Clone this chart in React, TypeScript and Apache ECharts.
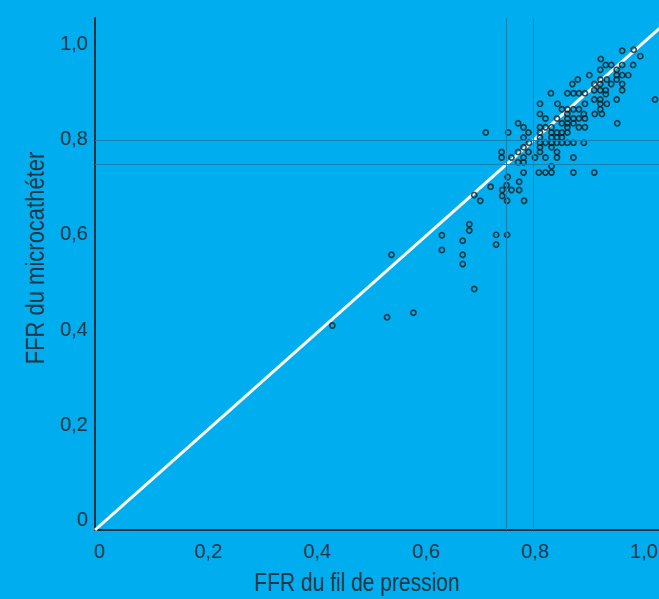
import React, { useEffect, useRef } from 'react';
import * as echarts from 'echarts';

// FFR measured with the pressure wire (x) vs. with the microcatheter (y)
const ffrPressureWire = [
  0.962, 0.983, 0.995, 0.923, 0.932, 0.942, 0.962, 0.982, 0.922, 0.952,
  0.902, 0.952, 0.962, 0.973, 0.881, 0.922, 0.934, 0.952, 0.871, 0.911,
  0.922, 0.942, 0.962, 0.832, 0.862, 0.873, 0.883, 0.894, 0.911, 0.922,
  0.932, 0.962, 0.932, 0.911, 0.922, 0.952, 1.022, 0.812, 0.844, 0.894,
  0.922, 0.934, 0.852, 0.862, 0.873, 0.883, 0.922, 0.812, 0.862, 0.892,
  0.912, 0.925, 0.822, 0.843, 0.862, 0.873, 0.883, 0.894, 0.772, 0.852,
  0.862, 0.873, 0.953, 0.782, 0.812, 0.822, 0.833, 0.862, 0.883, 0.894,
  0.713, 0.754, 0.791, 0.812, 0.833, 0.843, 0.852, 0.862, 0.782, 0.812,
  0.833, 0.843, 0.852, 0.792, 0.812, 0.822, 0.833, 0.843, 0.852, 0.862,
  0.873, 0.892, 0.782, 0.812, 0.833, 0.742, 0.772, 0.791, 0.812, 0.843,
  0.742, 0.760, 0.782, 0.803, 0.822, 0.843, 0.873, 0.772, 0.782, 0.833,
  0.782, 0.810, 0.822, 0.833, 0.873, 0.911, 0.753, 0.774, 0.722, 0.751,
  0.743, 0.760, 0.774, 0.692, 0.743, 0.703, 0.752, 0.783, 0.683, 0.683,
  0.633, 0.732, 0.752, 0.671, 0.732, 0.633, 0.541, 0.671, 0.671, 0.692,
  0.581, 0.533, 0.433,
];
const ffrMicrocatheter = [
  0.984, 0.986, 0.973, 0.967, 0.955, 0.955, 0.955, 0.955, 0.945, 0.945,
  0.934, 0.934, 0.934, 0.934, 0.925, 0.925, 0.925, 0.925, 0.916, 0.916,
  0.916, 0.916, 0.916, 0.897, 0.897, 0.897, 0.897, 0.897, 0.903, 0.903,
  0.903, 0.903, 0.895, 0.884, 0.884, 0.884, 0.884, 0.875, 0.875, 0.875,
  0.875, 0.875, 0.864, 0.864, 0.864, 0.864, 0.864, 0.854, 0.854, 0.854,
  0.854, 0.854, 0.845, 0.845, 0.845, 0.845, 0.845, 0.845, 0.835, 0.835,
  0.835, 0.835, 0.835, 0.827, 0.827, 0.827, 0.827, 0.827, 0.827, 0.827,
  0.816, 0.816, 0.816, 0.816, 0.816, 0.816, 0.816, 0.816, 0.806, 0.806,
  0.806, 0.806, 0.806, 0.795, 0.795, 0.795, 0.795, 0.795, 0.795, 0.795,
  0.795, 0.795, 0.786, 0.786, 0.786, 0.776, 0.776, 0.776, 0.776, 0.776,
  0.765, 0.765, 0.765, 0.765, 0.765, 0.765, 0.765, 0.755, 0.755, 0.747,
  0.734, 0.734, 0.734, 0.734, 0.734, 0.734, 0.725, 0.715, 0.705, 0.708,
  0.698, 0.698, 0.698, 0.688, 0.686, 0.676, 0.676, 0.676, 0.628, 0.615,
  0.605, 0.606, 0.606, 0.594, 0.586, 0.575, 0.565, 0.565, 0.546, 0.495,
  0.446, 0.437, 0.420,
];

const cutoffValues = [0.75, 0.8];
const identityLine = [0, 1.03];
const tickLabels = ['0', '0,2', '0,4', '0,6', '0,8', '1,0'];
const xTitle = 'FFR du fil de pression';
const yTitle = 'FFR du microcathéter';

export default function App() {
  const ref = useRef<HTMLDivElement>(null);

  useEffect(() => {
    if (!ref.current) return;
    const chart = echarts.init(ref.current, undefined, { renderer: 'svg' });
    const font = '"Liberation Sans", Arial, sans-serif';
    const textColor = '#1f3746';
    const axisColor = '#1b3140';
    const fmt = (v: number) => {
      const k = v / 0.2;
      const r = Math.round(k);
      if (Math.abs(k - r) > 1e-4 || r < 0 || r >= tickLabels.length) return '';
      return tickLabels[r];
    };
    const hiddenAxisBase = {
      type: 'value',
      axisTick: { show: false },
      splitLine: { show: false },
    };

    chart.setOption({
      animation: false,
      backgroundColor: '#00aeef',
      grid: { left: 95, right: 0, top: 18, bottom: 69, containLabel: false, outerBoundsMode: 'none' },
      xAxis: [
        {
          ...hiddenAxisBase,
          min: 0,
          max: 1.0292,
          axisLine: { show: true, onZero: false, lineStyle: { color: axisColor, width: 2 } },
          axisLabel: { show: false },
        },
        {
          ...hiddenAxisBase,
          position: 'bottom',
          min: -0.0082,
          max: 1.0275,
          axisLine: { show: false, onZero: false },
          axisLabel: {
            show: true,
            formatter: fmt,
            color: textColor,
            fontSize: 20,
            fontFamily: font,
            margin: 11,
          },
        },
      ],
      yAxis: [
        {
          ...hiddenAxisBase,
          min: 0,
          max: 1.0513,
          axisLine: { show: true, onZero: false, lineStyle: { color: axisColor, width: 2 } },
          axisLabel: { show: false },
        },
        {
          ...hiddenAxisBase,
          position: 'left',
          min: -0.0231,
          max: 1.0525,
          axisLine: { show: false, onZero: false },
          axisLabel: {
            show: true,
            formatter: fmt,
            color: textColor,
            fontSize: 20,
            fontFamily: font,
            margin: 7,
          },
        },
      ],
      series: [
        {
          type: 'line',
          xAxisIndex: 0,
          yAxisIndex: 0,
          data: [],
          z: 1,
          silent: true,
          markLine: {
            silent: true,
            symbol: 'none',
            label: { show: false },
            lineStyle: { color: '#1680b0', width: 1, type: 'solid' },
            data: [
              ...cutoffValues.map((v) => ({ xAxis: v })),
              ...cutoffValues.map((v) => ({ yAxis: v })),
            ],
          },
        },
        {
          type: 'line',
          xAxisIndex: 0,
          yAxisIndex: 0,
          data: identityLine.map((v) => [v, v]),
          showSymbol: false,
          symbol: 'none',
          lineStyle: { color: '#ffffff', width: 3 },
          z: 2,
          silent: true,
        },
        {
          type: 'scatter',
          xAxisIndex: 0,
          yAxisIndex: 0,
          data: ffrPressureWire.map((x, i) => [x, ffrMicrocatheter[i]]),
          symbol: 'circle',
          symbolSize: 5.2,
          itemStyle: { color: 'rgba(0,0,0,0)', borderColor: '#1c1c1c', borderWidth: 1.7 },
          z: 3,
        },
      ],
      graphic: [
        {
          type: 'text',
          x: 357,
          y: 582,
          scaleX: 0.84,
          style: {
            text: xTitle,
            fontSize: 25,
            fontFamily: font,
            fill: textColor,
            align: 'center',
            verticalAlign: 'middle',
          },
        },
        {
          type: 'text',
          x: 36,
          y: 258,
          rotation: Math.PI / 2,
          scaleX: 0.88,
          style: {
            text: yTitle,
            fontSize: 25,
            fontFamily: font,
            fill: textColor,
            align: 'center',
            verticalAlign: 'middle',
          },
        },
      ],
    });

    return () => chart.dispose();
  }, []);

  return (
    <div
      ref={ref}
      style={{ position: 'fixed', left: 0, top: 0, width: 659, height: 599 }}
    />
  );
}
